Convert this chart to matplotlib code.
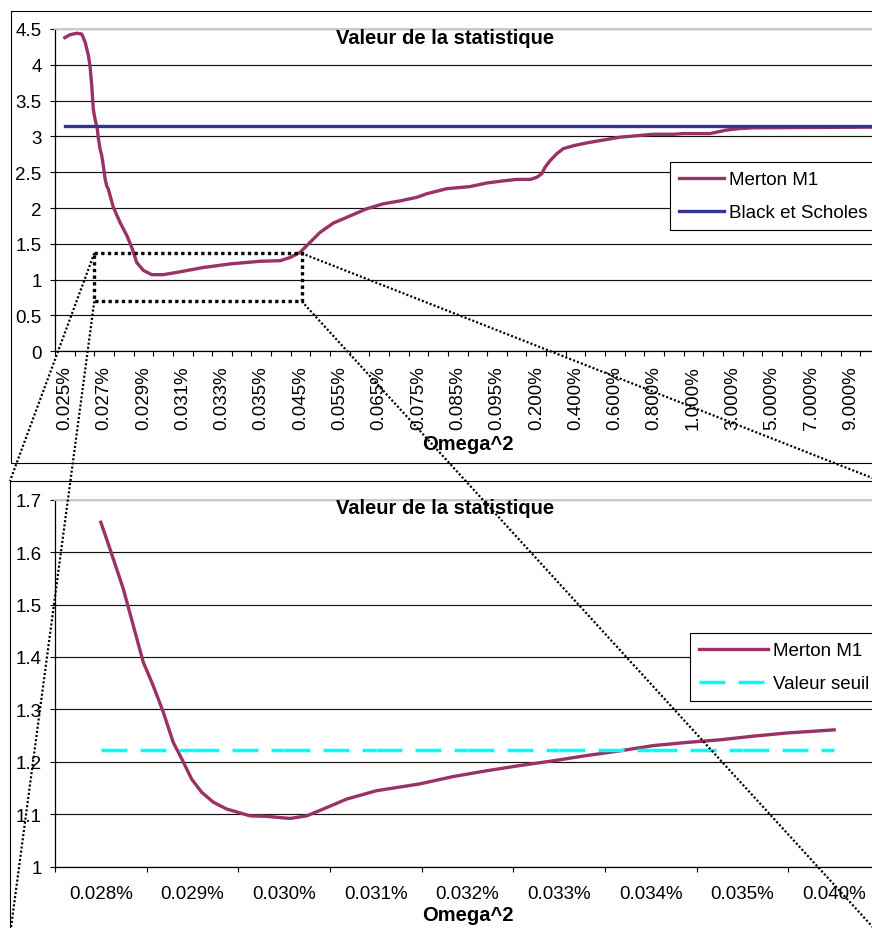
import matplotlib
matplotlib.use('Agg')
import matplotlib.pyplot as plt
from matplotlib.patches import Rectangle
from matplotlib.ticker import FuncFormatter
import numpy as np


######## ######## ######## ########
# DATA

# Top chart : full range of Omega^2 (only every other label is shown)
omegaTop = ['0.025%', '0.026%', '0.027%', '0.028%', '0.029%', '0.030%', '0.031%',
	'0.032%', '0.033%', '0.034%', '0.035%', '0.040%', '0.045%', '0.050%', '0.055%',
	'0.060%', '0.065%', '0.070%', '0.075%', '0.080%', '0.085%', '0.090%', '0.095%',
	'0.100%', '0.200%', '0.300%', '0.400%', '0.500%', '0.600%', '0.700%', '0.800%',
	'0.900%', '1.000%', '2.000%', '3.000%', '4.000%', '5.000%', '6.000%', '7.000%',
	'8.000%', '9.000%', '10.000%']

# Merton M1 statistic, traced along the category axis (x in category units)
mertonTopX = [0.0, 0.26, 0.61, 0.86, 1.03, 1.2, 1.28, 1.37, 1.45, 1.54, 1.65, 1.71,
	1.79, 1.88, 1.96, 2.05, 2.13, 2.21, 2.47, 2.81, 3.15, 3.41, 3.66, 4.0, 4.42, 5.01,
	5.87, 7.05, 8.41, 9.94, 10.96, 11.47, 11.97, 12.48, 12.99, 13.67, 14.52, 15.37,
	16.22, 17.07, 17.92, 18.43, 19.44, 20.63, 21.48, 22.33, 23.01, 23.69, 24.03, 24.28,
	24.45, 24.7, 25.05, 25.38, 25.89, 26.57, 27.42, 28.27, 29.12, 29.96, 30.98, 31.49,
	32.85, 33.19, 33.7, 34.38, 35.05, 41.0]
mertonTopY = [4.38, 4.42, 4.44, 4.43, 4.32, 4.13, 3.99, 3.71, 3.38, 3.24, 3.11, 2.97,
	2.83, 2.73, 2.59, 2.41, 2.31, 2.27, 2.01, 1.8, 1.62, 1.45, 1.24, 1.13, 1.07, 1.07,
	1.11, 1.17, 1.22, 1.257, 1.265, 1.31, 1.38, 1.52, 1.66, 1.79, 1.89, 1.99,
	2.06, 2.1, 2.15, 2.2, 2.27, 2.3, 2.35, 2.38, 2.4, 2.4, 2.43, 2.48,
	2.57, 2.66, 2.76, 2.83, 2.87, 2.91, 2.95, 2.99, 3.01, 3.03, 3.03, 3.04,
	3.04, 3.06, 3.09, 3.11, 3.12, 3.13]

# Black et Scholes statistic (constant)
blackScholes = 3.14

# Bottom chart : zoom on the low Omega^2 values
omegaZoom = ['0.028%', '0.029%', '0.030%', '0.031%', '0.032%', '0.033%', '0.034%',
	'0.035%', '0.040%']

mertonZoomX = [0.0, 0.1, 0.245, 0.354, 0.463, 0.572, 0.681, 0.79, 0.882, 0.991, 1.1,
	1.227, 1.373, 1.627, 1.809, 2.064, 2.246, 2.427, 2.682, 3.009, 3.482, 3.845,
	4.209, 4.573, 4.936, 5.3, 5.663, 6.027, 6.391, 6.754, 7.118, 7.482, 8.0]
mertonZoomY = [1.657, 1.606, 1.53, 1.46, 1.39, 1.345, 1.295, 1.237, 1.206, 1.167,
	1.142, 1.123, 1.11, 1.097, 1.096, 1.092, 1.097, 1.11, 1.129, 1.145, 1.158, 1.172,
	1.183, 1.193, 1.202, 1.212, 1.221, 1.231, 1.237, 1.242, 1.249, 1.255, 1.261]

# Critical value (constant)
valeurSeuil = 1.223


######## ######## ######## ########
# STYLE

plt.rcParams['font.family'] = ['Liberation Sans', 'DejaVu Sans']
plt.rcParams['lines.scale_dashes'] = False

W, H = 872, 929
cMerton = '#993366'
cBS = '#333399'
cSeuil = '#00FFFF'
cGrid = '#111111'


def figBox(x0, y0, x1, y1) :
	# pixel box (top-left origin) -> figure fraction rect
	return [x0 / W, 1 - y1 / H, (x1 - x0) / W, (y1 - y0) / H]


def styleAxis(ax, nCat, yTicks) :
	ax.set_xlim(-0.5, nCat - 0.5)
	ax.set_ylim(yTicks[0], yTicks[-1])
	ax.set_yticks(yTicks)
	ax.yaxis.set_major_formatter(FuncFormatter(lambda v, p : '{:g}'.format(round(v, 2))))
	ax.set_axisbelow(True)
	ax.yaxis.grid(True, color=cGrid, lw=0.85)
	ax.spines['right'].set_visible(False)
	ax.spines['top'].set_color('#cccccc')
	ax.spines['top'].set_linewidth(1.4)
	ax.spines['left'].set_linewidth(0.9)
	ax.spines['bottom'].set_linewidth(0.9)
	# ticks between categories, labels on the categories
	ax.set_xticks(np.arange(-0.5, nCat, 1.0))
	ax.set_xticklabels([])
	ax.tick_params(axis='both', which='major', direction='out', length=3.6, width=0.8)
	ax.tick_params(axis='y', labelsize=13.5, pad=6)


def addLegend(ax, x0, y0, hLen, hPad) :
	leg = ax.legend(loc='upper left', bbox_to_anchor=(x0 / W, 1 - y0 / H),
		bbox_transform=fig.transFigure, fontsize=13.5, fancybox=False,
		edgecolor='black', framealpha=1, borderpad=0.48, labelspacing=0.85,
		handlelength=hLen, handletextpad=hPad, borderaxespad=0)
	leg.get_frame().set_linewidth(0.8)
	return leg


######## ######## ######## ########
# FIGURE

fig = plt.figure(figsize=(W / 100, H / 100), dpi=100)

# ---- top chart
ax1 = fig.add_axes(figBox(55, 30, 880, 352.3))
nTop = len(omegaTop)
ax1.plot(mertonTopX, mertonTopY, color=cMerton, lw=2.4, solid_joinstyle='round',
	label='Merton M1')
ax1.plot(range(nTop), [blackScholes] * nTop, color=cBS, lw=2.4, label='Black et Scholes')
styleAxis(ax1, nTop, np.arange(0, 4.51, 0.5))
ax1.set_xticks(range(0, nTop, 2), minor=True)
ax1.set_xticklabels(omegaTop[::2], minor=True, rotation=90, fontsize=13.5)
ax1.tick_params(axis='x', which='minor', length=0, pad=10)
ax1.set_xlabel('Omega^2', fontsize=14.5, fontweight='bold', va='center')
ax1.xaxis.set_label_coords(0.5, (352.3 - 445) / 322.3)
addLegend(ax1, 670, 163.3, 2.4, 0.26)
fig.text(445 / W, 1 - 38 / H, 'Valeur de la statistique', ha='center', va='center',
	fontsize=14.5, fontweight='bold')

# ---- bottom chart
ax2 = fig.add_axes(figBox(55, 500.7, 880, 867.7))
nZoom = len(omegaZoom)
ax2.plot(mertonZoomX, mertonZoomY, color=cMerton, lw=2.4, solid_joinstyle='round',
	label='Merton M1')
# Excel restarts the dash pattern on every segment
for i in range(nZoom - 1) :
	ax2.plot([i, i + 1], [valeurSeuil, valeurSeuil], color=cSeuil, lw=2.5,
		dashes=(18.7, 9.4), label='Valeur seuil' if i == 0 else '_nolegend_')
styleAxis(ax2, nZoom, np.arange(1.0, 1.701, 0.1))
ax2.set_xticks(range(nZoom), minor=True)
ax2.set_xticklabels(omegaZoom, minor=True, fontsize=13.5)
ax2.tick_params(axis='x', which='minor', length=0, pad=13)
ax2.set_xlabel('Omega^2', fontsize=14.5, fontweight='bold', va='center')
ax2.xaxis.set_label_coords(0.5, (867.7 - 915.7) / 367.0)
addLegend(ax2, 690, 634, 3.7, 0.22)
fig.text(445 / W, 1 - 508 / H, 'Valeur de la statistique', ha='center', va='center',
	fontsize=14.5, fontweight='bold')

# ---- overlay : chart frames, zoom box and its connectors (pixel coords)
ov = fig.add_axes([0, 0, 1, 1], zorder=10)
ov.set_xlim(0, W)
ov.set_ylim(H, 0)
ov.axis('off')
ov.patch.set_alpha(0)

ov.add_patch(Rectangle((10.7, 12.3), 880 - 10.7, 464.3 - 12.3, fill=False,
	ec='black', lw=0.8))
ov.add_patch(Rectangle((10, 482), 870, 936 - 482, fill=False, ec='black', lw=0.8))

bx0, by0, bx1, by1 = 94.3, 254.3, 301.7, 302.3
ov.add_patch(Rectangle((bx0, by0), bx1 - bx0, by1 - by0, fill=False, ec='black',
	lw=2.4, linestyle=(0, (2.4, 2.4))))
for (xa, ya, xb, yb) in [(bx0, by0, 10, 482), (bx0, by1, 10, 936),
		(bx1, by0, 880, 482), (bx1, by1, 880, 936)] :
	ov.plot([xa, xb], [ya, yb], color='black', lw=1.6, dashes=(1.5, 1.5))

fig.savefig('out.png', dpi=100)
